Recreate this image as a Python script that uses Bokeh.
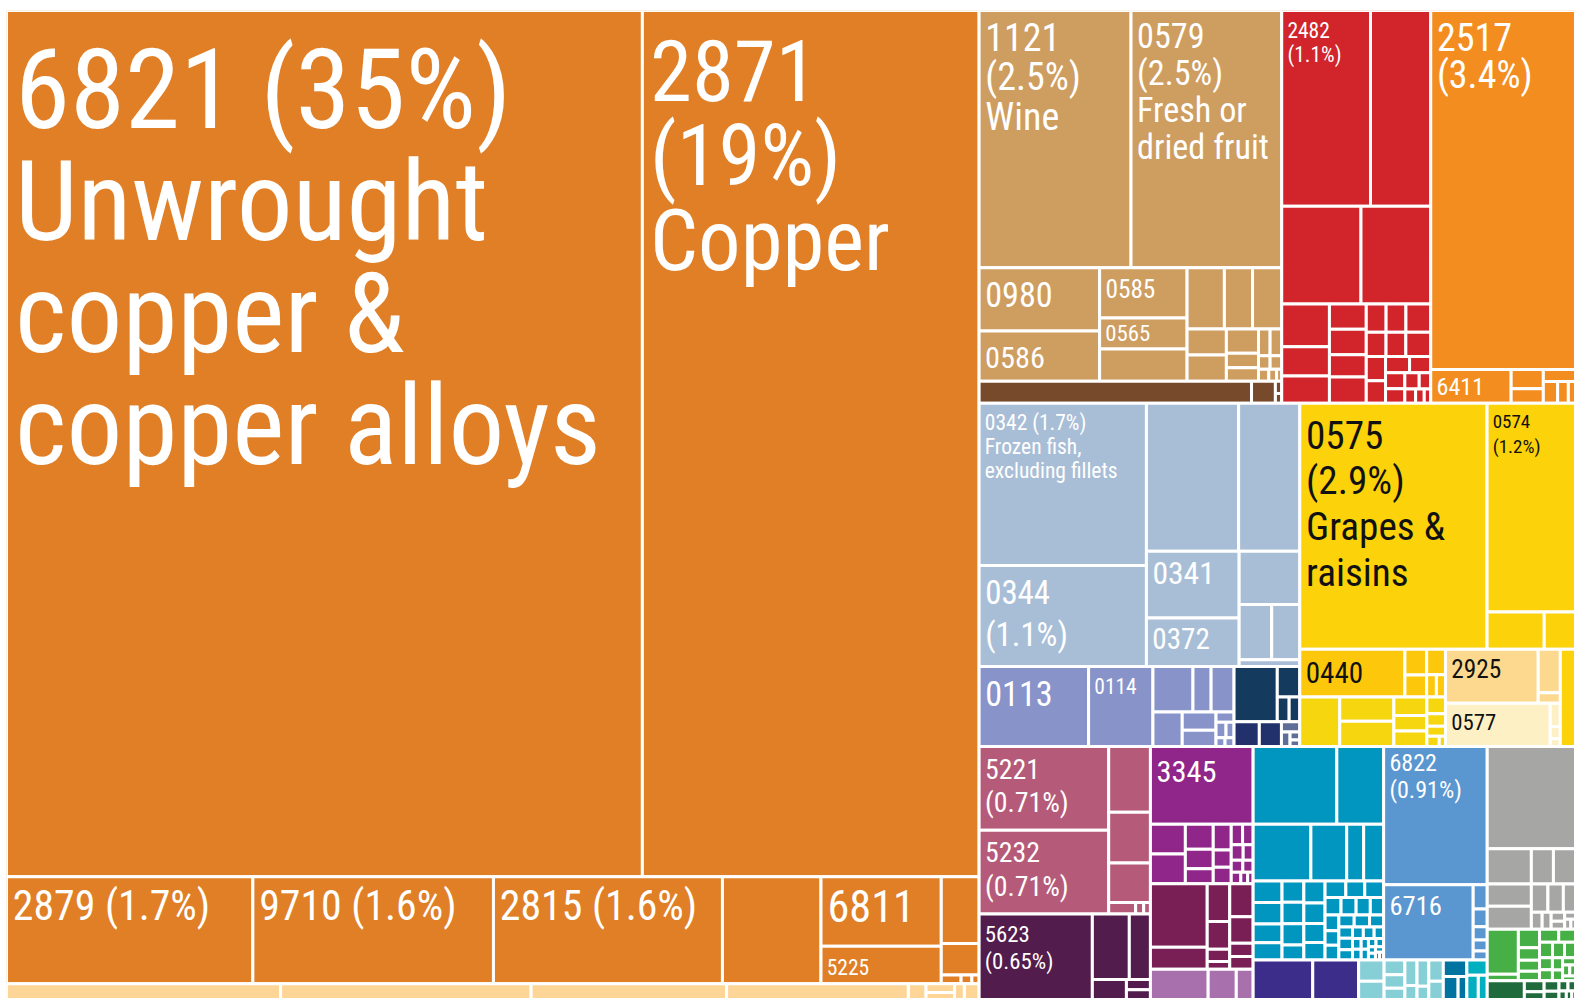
from bokeh.plotting import figure
from bokeh.models import ColumnDataSource, Range1d
from bokeh.core.properties import value
from bokeh.embed import file_html
from bokeh.resources import INLINE

# ------------------------------------------------------------------ data
# shares are percent of total exports (area of each cell)
copper_labels = ["6821 (35%)\nUnwrought\ncopper &\ncopper alloys", "2871\n(19%)\nCopper",
                 "2879 (1.7%)", "9710 (1.6%)", "2815 (1.6%)", "", "6811", "5225"]
copper_shares = [35.5, 18.8, 1.70, 1.66, 1.58, 0.68, 0.54, 0.29, 0.163, 0.077, 0.011, 0.006, 0.004]

peach_shares = [0.279, 0.255, 0.199, 0.185, 0.018, 0.016, 0.013, 0.010, 0.015]

food_labels = ["1121\n(2.5%)\nWine", "0579\n(2.5%)\nFresh or\ndried fruit", "0980", "0586", "0585", "0565"]
food_shares = [2.52, 2.50, 0.49, 0.39, 0.283, 0.175, 0.181, 0.147, 0.111, 0.115, 0.066, 0.066,
               0.05, 0.03, 0.028, 0.02, 0.02, 0.01, 0.01, 0.008, 0.006, 0.004]

tobacco_shares = [0.388, 0.034, 0.005, 0.004]

red_labels = ["2482\n(1.1%)"]
red_shares = [1.12, 0.76, 0.50, 0.44, 0.131, 0.090, 0.084, 0.060, 0.060, 0.053, 0.0625,
              0.036, 0.036, 0.045, 0.031, 0.031, 0.039,
              0.03, 0.028, 0.025, 0.022, 0.02, 0.018, 0.015, 0.012, 0.01, 0.008, 0.006]

orange_labels = ["2517\n(3.4%)", "6411"]
orange_shares = [3.35, 0.175, 0.04, 0.03, 0.025, 0.02, 0.015, 0.01]

fish_labels = ["0342 (1.7%)\nFrozen fish,\nexcluding fillets", "0344\n(1.1%)", "", "", "0341", "0372"]
fish_shares = [1.75, 1.09, 0.879, 0.583, 0.40, 0.29, 0.208, 0.116, 0.10, 0.027]

meat_labels = ["0113", "0114"]
meat_shares = [0.563, 0.331, 0.117, 0.053, 0.067, 0.065, 0.04, 0.035, 0.012, 0.01, 0.008, 0.005, 0.005]

navy_shares = [0.154, 0.044, 0.019, 0.017, 0.040, 0.035, 0.012, 0.008, 0.005, 0.004]

fruit_labels = ["0575\n(2.9%)\nGrapes &\nraisins", "0574\n(1.2%)", "", "", "0440"] + [""] * 16 + \
               ["2925", "", "", "0577"]
fruit_shares = [2.97, 1.19, 0.137, 0.075,
                0.324, 0.036, 0.031, 0.031, 0.014, 0.013,
                0.127, 0.084, 0.088, 0.039, 0.033, 0.033, 0.02, 0.015, 0.012, 0.008, 0.004,
                0.323, 0.062, 0.015, 0.291, 0.015, 0.008, 0.005,
                0.095]

mauve_labels = ["5221\n(0.71%)", "5232\n(0.71%)"]
mauve_shares = [0.70, 0.70, 0.177, 0.137, 0.106, 0.02, 0.006, 0.005]

plum_labels = ["5623\n(0.65%)"]
plum_shares = [0.624, 0.156, 0.089, 0.044, 0.016, 0.015]

purple_labels = ["3345"]
purple_shares = [0.515, 0.067, 0.067, 0.045, 0.035, 0.027, 0.03, 0.02, 0.019,
                 0.015, 0.014, 0.012, 0.01, 0.009, 0.008, 0.007, 0.005, 0.004]

wine_shares = [0.233, 0.080, 0.055, 0.04, 0.018, 0.011, 0.05, 0.04, 0.02, 0.019]
lilac_shares = [0.113, 0.055, 0.033]

teal_shares = [0.42, 0.235, 0.211, 0.131, 0.062, 0.073, 0.04, 0.04, 0.035, 0.032, 0.03, 0.03, 0.03, 0.021,
               0.03, 0.028, 0.026, 0.024, 0.022, 0.02, 0.02, 0.018, 0.017, 0.016, 0.015, 0.014, 0.013,
               0.013, 0.012, 0.012, 0.011, 0.01, 0.01, 0.009, 0.008, 0.008, 0.007, 0.006, 0.006, 0.005,
               0.005, 0.004, 0.004, 0.003, 0.003, 0.003, 0.002, 0.002]

blue_labels = ["6822\n(0.91%)", "6716"]
blue_shares = [0.924, 0.434, 0.022, 0.016, 0.012, 0.01, 0.008]

indigo_shares = [0.152, 0.117]
lteal_shares = [0.035, 0.03, 0.02, 0.018, 0.015, 0.02, 0.011, 0.02, 0.01, 0.02, 0.017]
dteal_shares = [0.025, 0.022, 0.013]
cyan_shares = [0.02, 0.018, 0.014]

gray_shares = [0.583, 0.1, 0.05, 0.05, 0.063, 0.066, 0.03, 0.028, 0.022,
               0.012, 0.01, 0.008, 0.007, 0.005, 0.004, 0.003]
green_shares = [0.09, 0.013, 0.025, 0.017, 0.015, 0.013,
                0.016, 0.014, 0.013, 0.012, 0.011, 0.01, 0.009, 0.008, 0.007, 0.006, 0.005, 0.004, 0.004]
dgreen_shares = [0.045, 0.014, 0.01, 0.01, 0.008, 0.006, 0.005, 0.004, 0.003, 0.002]

# ------------------------------------------------------------------ styles / structure
FRUIT_COLORS = ["#FCD20A"] * 4 + ["#FDC80B"] * 6 + ["#F5D60F"] * 11 + ["#FDD98F"] * 3 + \
               ["#FEF0C5"] * 4 + ["#FCD20A"]
NAVY_COLORS = ["#143A5E"] * 4 + ["#22306B"] * 2 + ["#5E6E96"] * 4

X = "x"


def S(n):
    return ("S", n)


def H(*k):
    return ("H", list(k))


def V(*k):
    return ("V", list(k))


GROUPS = {
    "copper": (copper_shares, copper_labels, "#E07F26",
               V(H(X, X), H(X, X, X, X, V(X, X), V(X, X, S(3))))),
    "peach": (peach_shares, [], "#FDD597", H(X, X, X, X, X, V(X, X), X, X)),
    "food": (food_shares, food_labels, "#CE9D60",
             V(H(X, X), H(V(X, X), V(X, X, X),
                          V(H(X, X, X), H(V(X, X), V(X, X, X), V(H(X, X), H(X, X), H(X, X, X))))))),
    "tobacco": (tobacco_shares, [], "#774A2B", H(X, X, V(X, X))),
    "red": (red_shares, red_labels, "#D1242B",
            V(H(X, X), H(X, X), H(V(X, X, X), V(X, X, X, X), V(H(X, X, X), H(X, X, X), S(11))))),
    "orange": (orange_shares, orange_labels, "#F38D1F", V(X, H(X, V(X, X), V(X, H(X, X, X))))),
    "fish": (fish_shares, fish_labels, "#A8BED6",
             H(V(X, X), V(H(X, X), H(V(X, X), V(X, H(X, X), X))))),
    "meat": (meat_shares, meat_labels, "#8793C9", H(X, X, V(H(X, X, X), H(X, V(X, X), S(5))))),
    "navy": (navy_shares, [], NAVY_COLORS, V(H(X, V(X, H(X, X))), H(X, X, S(4)))),
    "fruit": (fruit_shares, fruit_labels, FRUIT_COLORS,
              V(H(X, V(X, H(X, X))),
                H(V(H(X, V(X, X), V(X, H(X, X))), H(X, V(X, X), V(X, X, X), S(5))),
                  V(H(X, V(X, X)), H(X, V(X, X, X))), X))),
    "mauve": (mauve_shares, mauve_labels, "#B55B79", H(V(X, X), V(X, X, X, H(X, X, X)))),
    "plum": (plum_shares, plum_labels, "#521C4D", H(X, V(H(X, X), H(X, V(X, X))))),
    "purple": (purple_shares, purple_labels, "#90258A",
               V(X, H(V(X, X), V(X, X, X), V(X, X, X), S(9)))),
    "wine": (wine_shares, [], "#7A1E56", H(V(X, X), V(X, X, X, X), V(X, X, X, X))),
    "lilac": (lilac_shares, [], "#A870AC", H(X, X, X)),
    "teal": (teal_shares, [], "#0096C0",
             V(H(X, X), H(X, X, X, X), H(V(X, X, X, X), V(X, X, X, X), S(34)))),
    "blue": (blue_shares, blue_labels, "#5A96CF", V(X, H(X, V(X, X, X, X, X)))),
    "indigo": (indigo_shares, [], "#3C2D8B", H(X, X)),
    "lteal": (lteal_shares, [], "#86CFD7", H(V(X, X), V(X, X, X), V(X, X), V(X, X), V(X, X))),
    "dteal": (dteal_shares, [], "#0073A0", V(X, H(X, X))),
    "cyan": (cyan_shares, [], "#00B0C1", V(X, H(X, X))),
    "gray": (gray_shares, [], "#A6A7A5", V(X, H(X, X, X), H(V(X, X), V(H(X, X, X), S(7))))),
    "green": (green_shares, [], "#46B046", H(V(X, X), V(X, X, X, X), S(13))),
    "dgreen": (dgreen_shares, [], "#1F6B3B", H(X, V(X, X), S(7))),
}

TOP = H(V("copper", "peach"),
        V(H(V("food", "tobacco"), "red", "orange"),
          H(V("fish", H("meat", "navy")), "fruit"),
          H(V("mauve", "plum"), V("purple", "wine", "lilac"),
            V(H("teal", "blue"), H("indigo", "lteal", "dteal", "cyan")),
            V("gray", "green", "dgreen"))))

# label style: cap height px, top padding px, line pitch px
LABEL_STYLE = {
    "6821": (88, 30, 112), "2871": (67, 23, 85),
    "2879": (33, 10, 0), "9710": (33, 10, 0), "2815": (33, 10, 0),
    "6811": (35, 10, 0), "5225": (17, 11, 0),
    "1121": (30, 10, 40), "0579": (27, 10, 37),
    "0980": (27, 12, 0), "0586": (24, 13, 0), "0585": (20, 9, 0), "0565": (18, 5, 0),
    "2482": (17, 10, 25), "2517": (30, 10, 38), "6411": (19, 6, 0),
    "0342": (17, 10, 24), "0344": (26, 12, 42), "0341": (25, 8, 0), "0372": (23, 8, 0),
    "0113": (27, 12, 0), "0114": (17, 10, 0),
    "0575": (31, 14, 46), "0574": (15, 10, 25), "0440": (23, 10, 0), "2925": (20, 8, 0),
    "0577": (18, 9, 0),
    "5221": (22, 10, 34), "5232": (22, 10, 34), "5623": (18, 10, 27), "3345": (24, 12, 0),
    "6822": (19, 6, 27), "6716": (21, 9, 0),
}
CAP_RATIO = 0.711      # Roboto cap height / em
SIZE_FACTOR = 0.9      # condensed reference font is narrower than Roboto Condensed
BASELINE_SHIFT = 0.35  # renderer places alphabetic baseline this many em lower
FONT = "Roboto Condensed, DejaVu Sans Condensed, sans-serif"
W_FRAME, H_FRAME = 1569, 989


# ------------------------------------------------------------------ layout engine
def bind(node, it):
    if node == X:
        return next(it)
    kind, kids = node
    if kind == "S":
        return ("S", [next(it) for _ in range(kids)])
    return (kind, [bind(k, it) for k in kids])


BOUND = {}
for name, (shares, labels, color, lay) in GROUPS.items():
    it = iter(range(len(shares)))
    BOUND[name] = bind(lay, it)
    assert next(it, None) is None, name


def tot(node, g=None):
    if isinstance(node, str):
        return sum(GROUPS[node][0])
    if isinstance(node, int):
        return GROUPS[g][0][node]
    kind, kids = node
    if kind == "S":
        return sum(GROUPS[g][0][i] for i in kids)
    return sum(tot(k, g) for k in kids)


def worst(row, side):
    s = sum(row)
    return max(max(side * side * r / (s * s), (s * s) / (side * side * r)) for r in row)


def squarify(vals, x, y, w, h):
    total = sum(vals)
    areas = [v * w * h / total for v in vals]
    out = []
    i = 0
    while i < len(areas):
        side = min(w, h)
        row = [areas[i]]
        j = i + 1
        while j < len(areas) and worst(row + [areas[j]], side) <= worst(row, side):
            row.append(areas[j])
            j += 1
        s = sum(row)
        if w >= h:
            cw = s / h
            cy = y
            for a in row:
                out.append((x, cy, cw, a / cw))
                cy += a / cw
            x += cw
            w -= cw
        else:
            rh = s / w
            cx = x
            for a in row:
                out.append((cx, y, a / rh, rh))
                cx += a / rh
            y += rh
            h -= rh
        i = j
    return out


RECTS = []


def place(node, x, y, w, h, g=None):
    if isinstance(node, str):
        place(BOUND[node], x, y, w, h, node)
        return
    if isinstance(node, int):
        RECTS.append((g, node, x, y, w, h))
        return
    kind, kids = node
    if kind == "S":
        vals = [GROUPS[g][0][i] for i in kids]
        for i, r in zip(kids, squarify(vals, x, y, w, h)):
            RECTS.append((g, i, *r))
        return
    t = tot(node, g)
    pos = 0.0
    for k in kids:
        f = tot(k, g) / t
        if kind == "H":
            place(k, x + pos * w, y, f * w, h, g)
        else:
            place(k, x, y + pos * h, w, f * h, g)
        pos += f


place(TOP, 0, 0, W_FRAME, H_FRAME)

# ------------------------------------------------------------------ drawing
rect_data = dict(left=[], right=[], top=[], bottom=[], color=[])
text_data = dict(x=[], y=[], text=[], size=[], color=[])
for g, i, x, y, w, h in RECTS:
    shares, labels, color, _ = GROUPS[g]
    c = color[i] if isinstance(color, list) else color
    rect_data["left"].append(x)
    rect_data["right"].append(x + w)
    rect_data["top"].append(y)
    rect_data["bottom"].append(y + h)
    rect_data["color"].append(c)
    lab = labels[i] if i < len(labels) else ""
    if lab:
        code = lab.split()[0]
        cap, pad, pitch = LABEL_STYLE[code]
        fs = cap / CAP_RATIO * SIZE_FACTOR
        base = y + pad + cap
        for li, line in enumerate(lab.split("\n")):
            text_data["x"].append(x + 5 + 0.04 * cap)
            text_data["y"].append(base + li * pitch - BASELINE_SHIFT * fs)
            text_data["text"].append(line)
            text_data["size"].append("%.1fpx" % fs)
            text_data["color"].append("#111111" if g == "fruit" else "#FFFFFF")

p = figure(width=1575, height=999, output_backend="svg", toolbar_location=None,
           x_range=Range1d(0, W_FRAME), y_range=Range1d(H_FRAME, 0),
           x_axis_location=None, y_axis_location=None,
           min_border_left=6, min_border_top=10, min_border_right=0, min_border_bottom=0)
p.grid.visible = False
p.outline_line_color = None
p.background_fill_color = "white"
p.border_fill_color = "white"

p.quad(left="left", right="right", top="top", bottom="bottom", fill_color="color",
       line_color="white", line_width=3, source=ColumnDataSource(rect_data))
p.text(x="x", y="y", text="text", text_font_size="size", text_color="color",
       text_font=value(FONT), text_baseline="alphabetic", text_align="left",
       source=ColumnDataSource(text_data))

open("out.html", "w").write(file_html(p, INLINE))
